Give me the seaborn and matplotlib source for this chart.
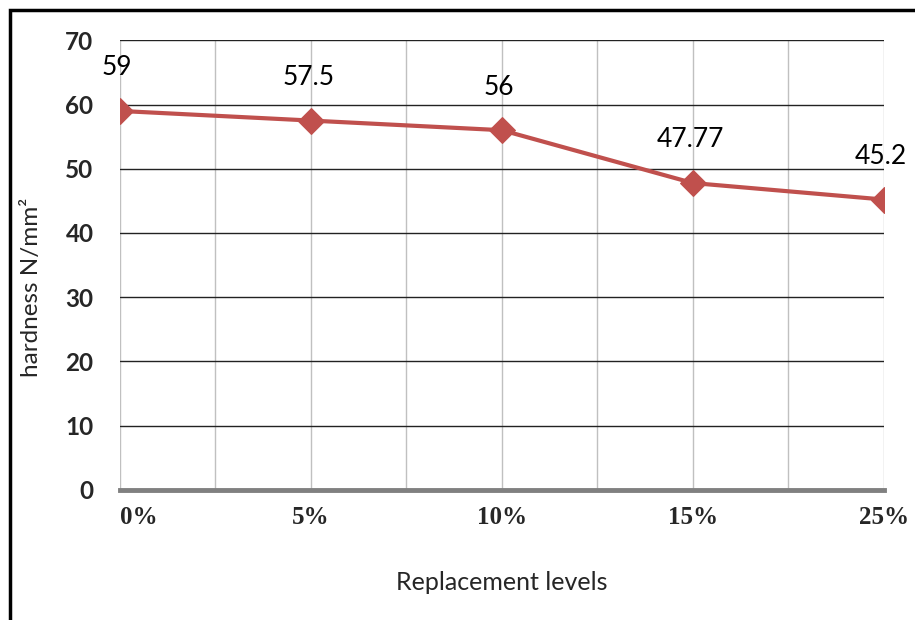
import numpy as np
import pandas as pd
import seaborn as sns
import matplotlib.pyplot as plt
from matplotlib.patches import Rectangle
from matplotlib.ticker import MultipleLocator

# data
levels = ['0%', '5%', '10%', '15%', '25%']
hardness = [59, 57.5, 56, 47.77, 45.2]
value_labels = ['59', '57.5', '56', '47.77', '45.2']

df = pd.DataFrame({'pos': np.arange(len(levels)), 'hardness': hardness})

sns.set_style('white')
plt.rcParams['font.family'] = ['Lato', 'DejaVu Sans']

fig = plt.figure(figsize=(9.15, 6.2), dpi=100)
ax = fig.add_axes([0.131, 0.210, 0.835, 0.725])

sns.lineplot(data=df, x='pos', y='hardness', ax=ax, color='#C0504D',
             linewidth=3, marker='D', markersize=13, markeredgecolor='#C0504D')

for x, y, t in zip(df['pos'], hardness, value_labels):
    ax.annotate(t, (x, y), xytext=(-2, 22), textcoords='offset points',
                ha='center', va='bottom', fontsize=19, color='black')

ax.set_xlim(0, len(levels) - 1)
ax.set_ylim(0, 70)
ax.yaxis.set_major_locator(MultipleLocator(10))
ax.set_xticks(df['pos'])
ax.set_xticklabels(levels, fontfamily='Liberation Serif', fontweight='bold', fontsize=18)
ax.get_xticklabels()[0].set_horizontalalignment('left')
ax.xaxis.set_minor_locator(MultipleLocator(0.5))

# gridlines: dark horizontal, light vertical
ax.grid(axis='y', color='#222222', linewidth=1.0)
ax.grid(axis='x', which='both', color='#c0c0c0', linewidth=1.0)
ax.set_axisbelow(True)

for s in ['top', 'right', 'left']:
    ax.spines[s].set_visible(False)
ax.spines['bottom'].set_color('#808080')
ax.spines['bottom'].set_linewidth(3.5)

ax.tick_params(axis='x', which='both', direction='in', length=5, width=3,
               color='#808080', pad=12)
ax.tick_params(axis='y', length=0, pad=19, labelsize=17.5)
for lab in ax.get_yticklabels():
    lab.set_fontweight('bold')

ax.set_xlabel('Replacement levels', fontsize=18, labelpad=30)
ax.set_ylabel('hardness N/mm²', fontsize=17.5)
ax.yaxis.set_label_coords(-0.102, 0.45)

# outer frame (left and top edges visible)
fig.add_artist(Rectangle((0.0105, -0.2), 1.5, 1.184, transform=fig.transFigure,
                         fill=False, edgecolor='black', linewidth=2.5))

fig.savefig('out.png', dpi=100)
